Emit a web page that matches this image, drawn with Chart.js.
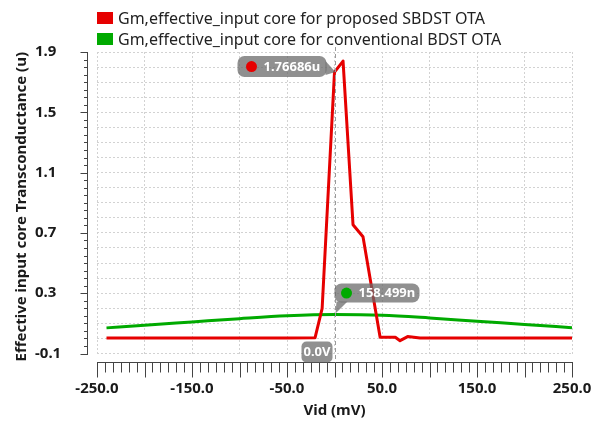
<!DOCTYPE html>
<html><head><meta charset="utf-8">
<script src="https://cdn.jsdelivr.net/npm/chart.js@4.4.0/dist/chart.umd.min.js"></script>
<style>
html,body{margin:0;padding:0;background:#fff;}
#wrap{position:relative;width:601px;height:423px;overflow:hidden;}
canvas{position:absolute;left:0;top:0;}
#legend{position:absolute;left:97px;top:7px;font-family:'Noto Sans';font-size:16px;color:#222;}
.row{display:flex;align-items:center;height:21px;white-space:nowrap;}
.sw{width:16px;height:12px;margin-right:5px;flex:none;}
</style></head><body>
<div id="wrap"><canvas id="c" width="601" height="423"></canvas><div id="legend"></div></div>
<script>
// ---- data ----
const seriesLabels = ['Gm,effective_input core for proposed SBDST OTA', 'Gm,effective_input core for conventional BDST OTA'];
const seriesColors = ['#e60000', '#00aa00'];
const redX = [-240, -200, -150, -100, -50, -20.5, -13, 0, 9, 19.5, 30, 48, 64, 69, 77, 90, 150, 200, 250];
const redY = [0.002, 0.002, 0.002, 0.002, 0.002, 0.004, 0.20, 1.76686, 1.84, 0.754, 0.674, 0.008, 0.008, -0.015, 0.012, 0.003, 0.002, 0.002, 0.002];
const greenX = [-240, -200, -150, -100, -50, 0, 50, 100, 150, 200, 250];
const greenY = [0.070, 0.087, 0.109, 0.131, 0.150, 0.158499, 0.154, 0.136, 0.114, 0.093, 0.071];
const xTickLabels = ['-250.0', '-150.0', '-50.0', '50.0', '150.0', '250.0'];
const yTickLabels = ['1.9', '1.5', '1.1', '0.7', '0.3', '-0.1'];
const xTitle = 'Vid (mV)';
const yTitle = 'Effective input core Transconductance (u)';
const markerX = 0;
const markerTexts = ['1.76686u', '158.499n', '0.0V'];

const X_MIN = -250, X_MAX = 250, X_STEP = 50;
const Y_MIN = -0.1, Y_MAX = 1.9, Y_STEP = 0.1;

const xGrid = [];
for (let i = 0; i <= Math.round((X_MAX - X_MIN) / X_STEP); i++) xGrid.push(X_MIN + i * X_STEP);
const yGrid = [];
for (let i = 0; i <= Math.round((Y_MAX - Y_MIN) / Y_STEP); i++) yGrid.push(Math.round((Y_MIN + i * Y_STEP) * 10) / 10);

// ---- legend (HTML) ----
const leg = document.getElementById('legend');
seriesLabels.forEach((t, i) => {
  const r = document.createElement('div'); r.className = 'row';
  const s = document.createElement('div'); s.className = 'sw'; s.style.background = seriesColors[i];
  const tx = document.createElement('span'); tx.textContent = t;
  r.appendChild(s); r.appendChild(tx); leg.appendChild(r);
});

const FONT = 'Noto Sans';
const BOLD = {family: FONT, size: 15, weight: 'bold'};

function rrect(ctx, x, y, w, h, r) {
  ctx.beginPath();
  ctx.moveTo(x + r, y);
  ctx.lineTo(x + w - r, y); ctx.arcTo(x + w, y, x + w, y + r, r);
  ctx.lineTo(x + w, y + h - r); ctx.arcTo(x + w, y + h, x + w - r, y + h, r);
  ctx.lineTo(x + r, y + h); ctx.arcTo(x, y + h, x, y + h - r, r);
  ctx.lineTo(x, y + r); ctx.arcTo(x, y, x + r, y, r);
  ctx.closePath();
}

const deco = {
  id: 'deco',
  afterLayout(chart) {
    const t = chart.scales.yt;
    t.top += 4; t.bottom += 4;
  },
  afterDraw(chart) {
    const {ctx, chartArea: a, scales: {x, y}} = chart;
    ctx.save();
    ctx.strokeStyle = '#444'; ctx.lineWidth = 1;
    const ax = Math.round(a.left - 10) + 0.5;
    const ay = Math.round(a.bottom + 8) + 0.5;
    ctx.beginPath();
    ctx.moveTo(ax, Math.round(y.getPixelForValue(Y_MAX)));
    ctx.lineTo(ax, Math.round(y.getPixelForValue(Y_MIN)) + 1);
    for (let k = 0; k <= 40; k++) {
      const v = Y_MIN + k * 0.05;
      const py = Math.round(y.getPixelForValue(v)) + 0.5;
      const len = (k % 8 === 0) ? 7 : 3.5;
      ctx.moveTo(ax, py); ctx.lineTo(ax - len, py);
    }
    ctx.moveTo(Math.round(x.getPixelForValue(X_MIN)), ay);
    ctx.lineTo(Math.round(x.getPixelForValue(X_MAX)) + 1, ay);
    for (let k = 0; k <= 60; k++) {
      const v = X_MIN + k * X_STEP / 6;
      const px = Math.round(x.getPixelForValue(v)) + 0.5;
      const len = (k % 6 === 0) ? 15 : 10;
      ctx.moveTo(px, ay); ctx.lineTo(px, ay + len);
    }
    ctx.stroke();

    const px0 = Math.round(x.getPixelForValue(markerX)) + 0.5;
    ctx.strokeStyle = '#9a9a9a'; ctx.setLineDash([4, 3]);
    ctx.beginPath(); ctx.moveTo(px0, a.top - 5); ctx.lineTo(px0, ay); ctx.stroke();
    ctx.setLineDash([]);

    const boxFill = 'rgba(105,105,105,0.74)';
    ctx.font = 'bold 13px "' + FONT + '"';
    ctx.textBaseline = 'middle';

    const rv = redY[redX.indexOf(markerX)];
    const pyR = y.getPixelForValue(rv);
    {
      const bw = 89, bh = 21, bx = px0 - 9 - bw, by = pyR - 16;
      ctx.fillStyle = boxFill;
      rrect(ctx, bx, by, bw, bh, 7); ctx.fill();
      ctx.beginPath(); ctx.moveTo(bx + bw - 1, by + 5); ctx.lineTo(px0, pyR); ctx.lineTo(bx + bw - 1, by + bh - 2); ctx.closePath(); ctx.fill();
      ctx.fillStyle = seriesColors[0];
      ctx.beginPath(); ctx.arc(bx + 14, by + bh / 2, 5.5, 0, Math.PI * 2); ctx.fill();
      ctx.fillStyle = '#fff'; ctx.textAlign = 'left';
      ctx.fillText(markerTexts[0], bx + 26, by + bh / 2 + 0.5);
    }
    const gv = greenY[greenX.indexOf(markerX)];
    const pyG = y.getPixelForValue(gv);
    {
      const bw = 85, bh = 19, bx = px0 - 1, by = pyG - 31;
      ctx.fillStyle = boxFill;
      rrect(ctx, bx, by, bw, bh, 7); ctx.fill();
      ctx.beginPath(); ctx.moveTo(bx + 2, by + bh - 1); ctx.lineTo(bx + 13, by + bh - 1); ctx.lineTo(px0, pyG - 1); ctx.closePath(); ctx.fill();
      ctx.fillStyle = seriesColors[1];
      ctx.beginPath(); ctx.arc(bx + 12, by + bh / 2, 5.5, 0, Math.PI * 2); ctx.fill();
      ctx.fillStyle = '#fff'; ctx.textAlign = 'left';
      ctx.fillText(markerTexts[1], bx + 24, by + bh / 2 + 0.5);
    }
    {
      const bw = 31, bh = 21, bx = px0 - 34, by = ay - bh;
      ctx.fillStyle = boxFill;
      rrect(ctx, bx, by, bw, bh, 5); ctx.fill();
      ctx.fillStyle = '#fff'; ctx.textAlign = 'center';
      ctx.fillText(markerTexts[2], bx + bw / 2, by + bh / 2 + 0.5);
    }
    ctx.restore();
  }
};

new Chart(document.getElementById('c'), {
  type: 'line',
  data: {
    datasets: [
      {label: seriesLabels[0], data: redX.map((v, i) => ({x: v, y: redY[i]})), borderColor: seriesColors[0], backgroundColor: seriesColors[0], borderWidth: 3, pointRadius: 0, tension: 0, borderJoinStyle: 'round'},
      {label: seriesLabels[1], data: greenX.map((v, i) => ({x: v, y: greenY[i]})), borderColor: seriesColors[1], backgroundColor: seriesColors[1], borderWidth: 3, pointRadius: 0, cubicInterpolationMode: 'monotone'}
    ]
  },
  options: {
    responsive: false, animation: false, devicePixelRatio: 1,
    layout: {padding: {top: 52, right: 29, left: 9, bottom: 0}},
    plugins: {legend: {display: false}, tooltip: {enabled: false}},
    scales: {
      x: {
        type: 'linear', min: X_MIN, max: X_MAX, position: 'bottom',
        afterBuildTicks: s => { s.ticks = xGrid.map(v => ({value: v})); },
        afterFit: s => { s.height = 69.5; },
        ticks: {autoSkip: false, maxRotation: 0, padding: 3, color: '#1a1a1a', font: BOLD,
          callback: v => { const t = Number(v).toFixed(1); return xTickLabels.includes(t) ? t : ''; }},
        grid: {color: '#d2d2d2', lineWidth: 1, drawTicks: true, tickLength: 23, tickWidth: 0, tickColor: 'rgba(0,0,0,0)'},
        border: {display: false, dash: [2, 2]},
        title: {display: true, text: xTitle, color: '#1a1a1a', font: BOLD, padding: {top: 4, bottom: 3}}
      },
      y: {
        type: 'linear', min: Y_MIN, max: Y_MAX, position: 'left', weight: 0,
        afterBuildTicks: s => { s.ticks = yGrid.map(v => ({value: v})); },
        afterFit: s => { s.width = 62; },
        ticks: {autoSkip: false, crossAlign: 'far', color: '#1a1a1a', font: BOLD,
          callback: v => { const t = Number(v).toFixed(1); return yTickLabels.includes(t) ? t : ''; }},
        grid: {color: '#d2d2d2', lineWidth: 1, drawTicks: false},
        border: {display: false, dash: [2, 2]}
      },
      yt: {
        type: 'linear', min: Y_MIN, max: Y_MAX, position: 'left', weight: 10,
        afterFit: s => { s.width = 26; },
        ticks: {display: false},
        grid: {display: false, drawTicks: false},
        border: {display: false},
        title: {display: true, text: yTitle, color: '#1a1a1a', font: BOLD, padding: {top: 4, bottom: 4}}
      }
    }
  },
  plugins: [deco]
});
</script>
</body></html>
